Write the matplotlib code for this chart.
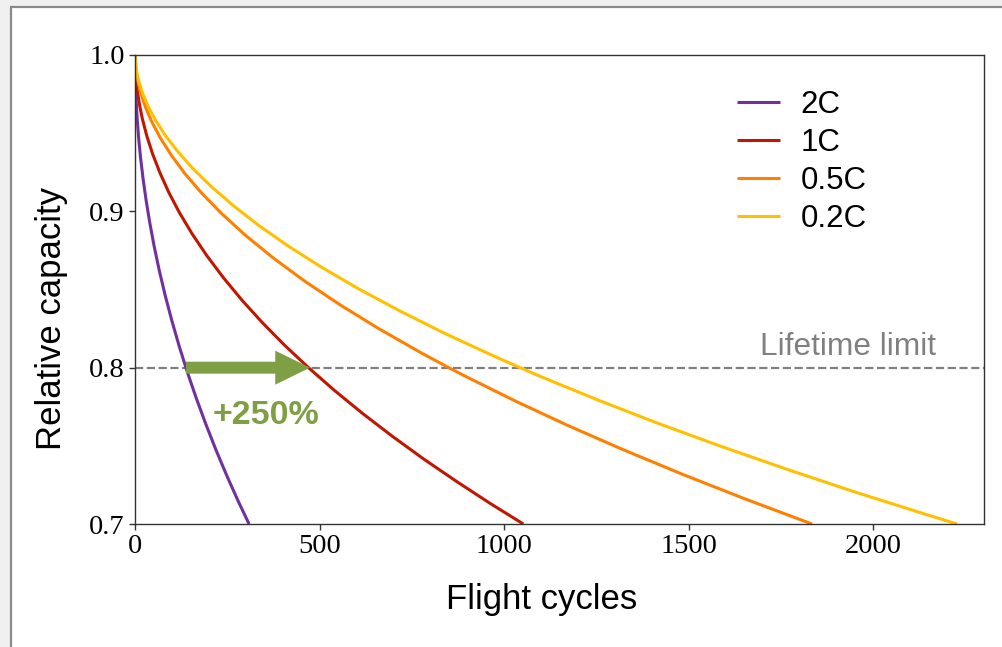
import matplotlib
matplotlib.use("Agg")
import matplotlib.pyplot as plt
from matplotlib.patches import Rectangle, FancyArrowPatch

# ---- data ----
labels = ["2C", "1C", "0.5C", "0.2C"]
colors = ["#7030a0", "#c01800", "#ff8000", "#ffc000"]

cycles_2c = [0, 1, 3, 6, 10, 15, 22, 30, 40, 52, 66, 82, 100, 120, 142, 166, 192, 220, 250, 280, 309]
cap_2c = [1.0, 0.9832, 0.9708, 0.9587, 0.9466, 0.9345, 0.9206, 0.9072, 0.8927, 0.8775, 0.8619,
          0.8460, 0.8299, 0.8135, 0.7970, 0.7805, 0.7638, 0.7470, 0.7302, 0.7144, 0.7000]

cycles_1c = [0, 2, 6, 12, 20, 32, 48, 68, 92, 120, 155, 195, 240, 290, 345, 405, 470,
             540, 615, 695, 780, 870, 960, 1052]
cap_1c = [1.0, 0.9872, 0.9777, 0.9684, 0.9591, 0.9482, 0.9365, 0.9244, 0.9119, 0.8993, 0.8855,
          0.8715, 0.8574, 0.8431, 0.8288, 0.8144, 0.8000, 0.7855, 0.7710, 0.7565, 0.7419,
          0.7274, 0.7135, 0.7000]

cycles_05c = [0, 3, 8, 16, 28, 45, 68, 98, 135, 180, 235, 300, 375, 460, 555, 660, 775, 850,
              900, 1030, 1170, 1320, 1480, 1650, 1834]
cap_05c = [1.0, 0.9898, 0.9829, 0.9754, 0.9669, 0.9575, 0.9472, 0.9360, 0.9242, 0.9118, 0.8985,
           0.8845, 0.8701, 0.8553, 0.8403, 0.8250, 0.8095, 0.8000, 0.7939, 0.7787, 0.7633,
           0.7478, 0.7321, 0.7163, 0.7000]

cycles_02c = [0, 4, 10, 20, 35, 55, 82, 115, 155, 205, 265, 335, 415, 505, 605, 715, 835, 960,
              1043, 1100, 1250, 1410, 1580, 1760, 1950, 2150, 2227]
cap_02c = [1.0, 0.9898, 0.9833, 0.9758, 0.9674, 0.9585, 0.9486, 0.9385, 0.9278, 0.9162, 0.9039,
           0.8910, 0.8778, 0.8643, 0.8505, 0.8366, 0.8224, 0.8087, 0.8000, 0.7942, 0.7797,
           0.7650, 0.7503, 0.7355, 0.7205, 0.7056, 0.7000]

series_x = [cycles_2c, cycles_1c, cycles_05c, cycles_02c]
series_y = [cap_2c, cap_1c, cap_05c, cap_02c]

lifetime_limit = 0.8
arrow_from = 138   # 2C reaches limit
arrow_to = 474     # 1C reaches limit
x_ticks = [0, 500, 1000, 1500, 2000]
y_ticks = [0.7, 0.8, 0.9, 1.0]

W, H = 1002, 647
fig = plt.figure(figsize=(W / 100, H / 100), dpi=100, facecolor="#f0f0f0")
fig.patches.append(Rectangle((10.5 / W, -0.1), 1.2, (H - 7) / H + 0.1,
                             transform=fig.transFigure, facecolor="white",
                             edgecolor="#8a8a8a", lw=1.6, zorder=-5))

ax = fig.add_axes([135 / W, 1 - 524 / H, (984 - 135) / W, (524 - 55) / H])
ax.set_facecolor("white")

for xs, ys, lab, col in zip(series_x, series_y, labels, colors):
    ax.plot(xs, ys, color=col, lw=2.2, label=lab, solid_capstyle="butt",
            solid_joinstyle="round")

ax.axhline(lifetime_limit, color="#808080", lw=1.6, ls="--", zorder=1)

arrow = FancyArrowPatch((arrow_from, lifetime_limit), (arrow_to, lifetime_limit),
                        arrowstyle="simple,head_width=24.5,head_length=25,tail_width=8.6",
                        mutation_scale=1, shrinkA=0, shrinkB=0,
                        color="#7f9f45", lw=0, zorder=3)
ax.add_patch(arrow)

ax.text(211, 0.764, "+250%", color="#7f9f45", fontsize=24.5, fontweight="bold",
        family="Liberation Sans", ha="left", va="baseline")
ax.text(2171, 0.808, "Lifetime limit", color="#808080", fontsize=22.8,
        family="Liberation Sans", ha="right", va="baseline")

ax.set_xlim(0, 2300)
ax.set_ylim(0.7, 1.0)
ax.set_xticks(x_ticks)
ax.set_yticks(y_ticks)
ax.set_yticklabels([f"{v:.1f}" for v in y_ticks])
for lbl in ax.get_xticklabels() + ax.get_yticklabels():
    lbl.set_family("Liberation Serif")
    lbl.set_fontsize(20.5)
ax.tick_params(direction="out", length=4.5, width=1, color="#333333", pad=3)
for s in ax.spines.values():
    s.set_linewidth(1.0)
    s.set_color("#333333")

fig.text(542 / W, 1 - 609 / H, "Flight cycles", fontsize=25, family="Liberation Sans",
         ha="center", va="baseline")
fig.text(52 / W, 1 - 318 / H, "Relative capacity", fontsize=25, family="Liberation Sans",
         rotation=90, ha="center", va="center")

leg = ax.legend(loc="upper left", bbox_to_anchor=(737 / W, 1 - 90 / H),
                bbox_transform=fig.transFigure, frameon=False,
                prop={"family": "Liberation Sans", "size": 22.5},
                handlelength=1.39, handletextpad=0.65, labelspacing=0.26,
                borderpad=0, borderaxespad=0)

fig.savefig("out.png", dpi=100, facecolor=fig.get_facecolor())
